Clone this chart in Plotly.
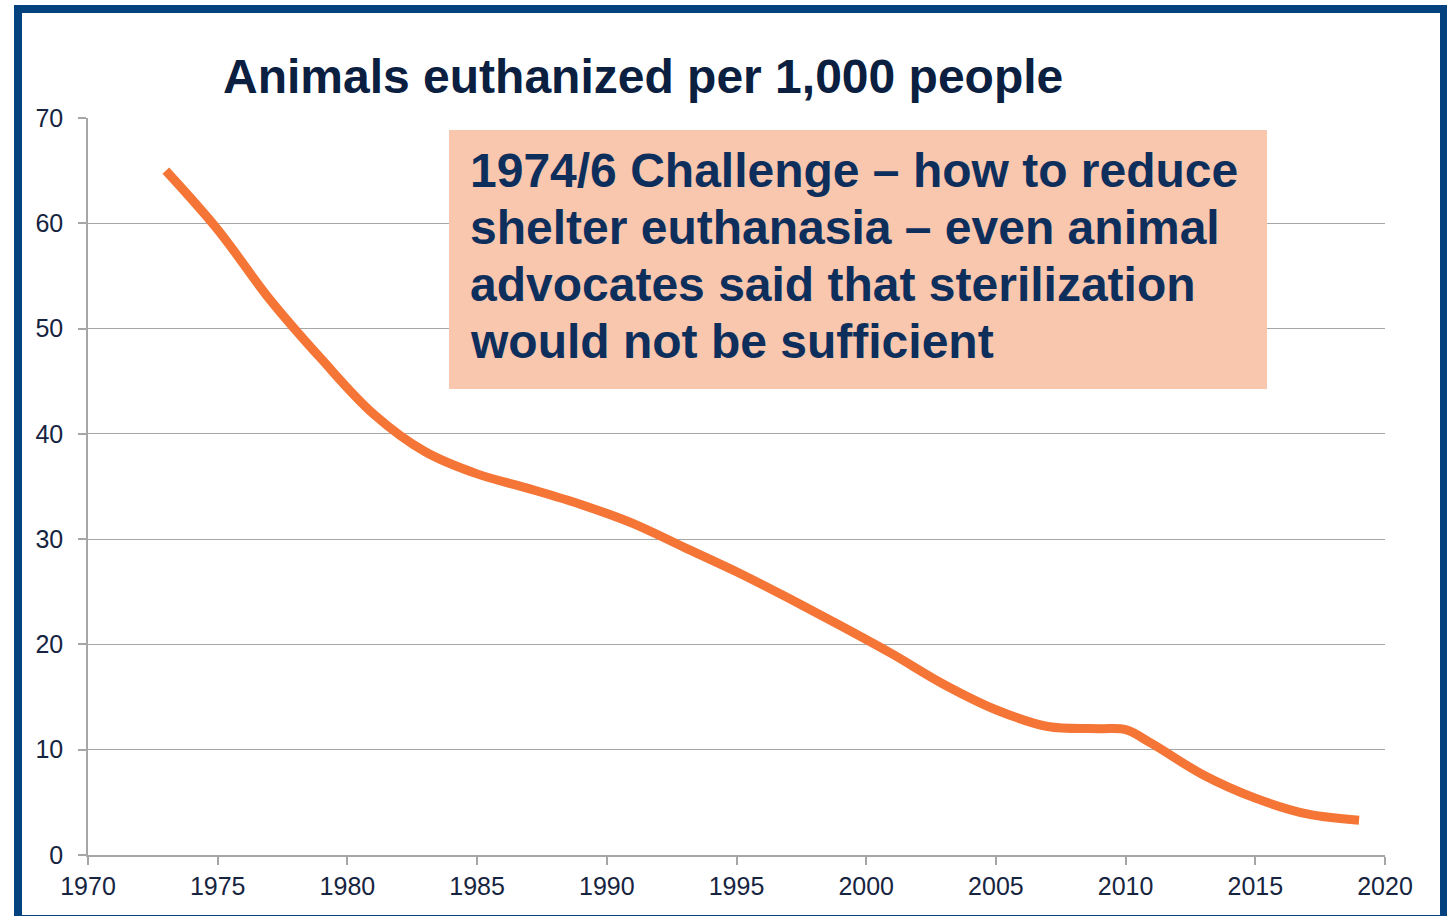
import plotly.graph_objects as go

years = [1973, 1975, 1977, 1979, 1981, 1983, 1985, 1987, 1989, 1991, 1993,
         1995, 1997, 1999, 2001, 2003, 2005, 2007, 2009, 2010, 2011, 2013,
         2015, 2017, 2019]
euthanized = [65.0, 59.4, 52.8, 47.1, 41.9, 38.3, 36.2, 34.8, 33.3, 31.5, 29.2,
              26.9, 24.4, 21.8, 19.1, 16.2, 13.8, 12.2, 12.0, 11.9, 10.6, 7.6,
              5.4, 3.9, 3.3]

x_ticks = [1970, 1975, 1980, 1985, 1990, 1995, 2000, 2005, 2010, 2015, 2020]
y_ticks = [0, 10, 20, 30, 40, 50, 60, 70]

title_text = "Animals euthanized per 1,000 people"
note_lines = ["1974/6 Challenge – how to reduce",
              "shelter euthanasia – even animal",
              "advocates said that sterilization",
              "would not be sufficient"]

W, H = 1447, 916
L, R, T, B = 88, 62, 118, 61
pw, ph = W - L - R, H - T - B


def px(xp):
    return (xp - L) / pw


def py(yp):
    return (H - B - yp) / ph


fig = go.Figure()
fig.add_trace(go.Scatter(
    x=years, y=euthanized, mode="lines",
    line=dict(color="#f47535", width=9, shape="spline", smoothing=1.0),
    hoverinfo="x+y", showlegend=False,
))

grid = "#a6a6a6"
font_family = "Liberation Sans, Arial, sans-serif"
tickfont = dict(family=font_family, size=25, color="#16243f")

fig.update_xaxes(
    range=[1970, 2020], tickvals=x_ticks, ticktext=[str(v) for v in x_ticks],
    showgrid=False, showline=True, linecolor=grid, linewidth=1.5,
    ticks="outside", ticklen=8, tickcolor=grid, tickwidth=1.5,
    tickfont=tickfont, zeroline=False, fixedrange=True,
)
fig.update_yaxes(
    range=[0, 70], tickvals=y_ticks, ticktext=[str(v) for v in y_ticks],
    showgrid=True, gridcolor=grid, gridwidth=1.3,
    showline=True, linecolor=grid, linewidth=1.5,
    ticks="outside", ticklen=8, tickcolor=grid, tickwidth=1.5,
    ticklabelstandoff=10,
    tickfont=tickfont, zeroline=False, fixedrange=True,
)

# peach note box
fig.add_shape(type="rect", xref="paper", yref="paper",
              x0=px(449), x1=px(1267), y0=py(389), y1=py(130),
              fillcolor="#f9c6ae", line=dict(width=0), layer="above")
for i, line in enumerate(note_lines):
    fig.add_annotation(xref="paper", yref="paper", x=px(468), y=py(170 + 57 * i),
                       xanchor="left", yanchor="middle", align="left",
                       text="<b>" + line + "</b>", showarrow=False,
                       font=dict(family=font_family, size=48, color="#0e2f5c"))

# title
fig.add_annotation(xref="paper", yref="paper", x=px(643), y=py(76),
                   xanchor="center", yanchor="middle",
                   text="<b>" + title_text + "</b>", showarrow=False,
                   font=dict(family=font_family, size=48, color="#0b2040"))

# blue frame
fig.add_shape(type="rect", xref="paper", yref="paper",
              x0=px(18), x1=px(1444), y0=py(919), y1=py(9),
              line=dict(color="#03427f", width=8), fillcolor="rgba(0,0,0,0)",
              layer="above")

fig.update_layout(
    width=W, height=H,
    margin=dict(l=L, r=R, t=T, b=B, autoexpand=False),
    paper_bgcolor="white", plot_bgcolor="white",
    showlegend=False,
)

fig.write_html("out.html", config={"displayModeBar": False})
